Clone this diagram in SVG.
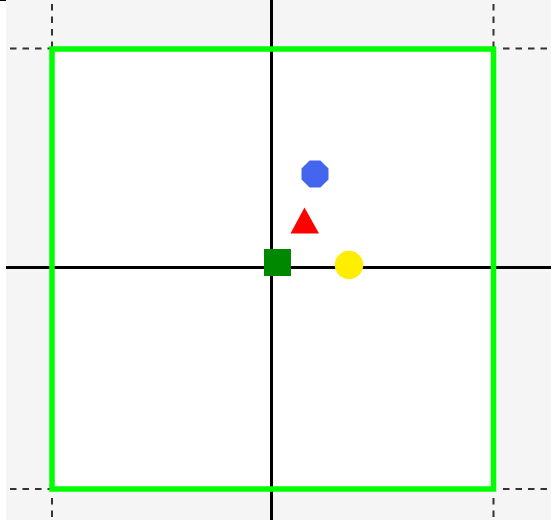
<svg xmlns="http://www.w3.org/2000/svg" width="551" height="520" viewBox="0 0 551 520">
<style>
.guide{stroke:#333;stroke-width:2;stroke-dasharray:6.5 6;fill:none}
.axis{stroke:#000;stroke-width:3;fill:none}
</style>
<rect x="0" y="0" width="551" height="520" fill="#fff"/>
<rect x="6" y="0" width="545" height="520" fill="#f5f5f5"/>
<rect x="0" y="0" width="6" height="1" fill="#000"/>
<g id="guides">
<line class="guide" x1="52" y1="4" x2="52" y2="48"/>
<line class="guide" x1="10" y1="48.5" x2="52" y2="48.5"/>
<line class="guide" x1="493.5" y1="498" x2="493.5" y2="520"/>
<line class="guide" x1="503" y1="489" x2="551" y2="489"/>
<line class="guide" x1="10" y1="489" x2="52" y2="489"/>
<line class="guide" x1="52" y1="498" x2="52" y2="520"/>
<line class="guide" x1="493.5" y1="4" x2="493.5" y2="48"/>
<line class="guide" x1="503" y1="48.5" x2="551" y2="48.5"/>
</g>
<rect x="52" y="49" width="441.5" height="440" fill="#fff"/>
<g id="axes">
<line class="axis" x1="6" y1="267.5" x2="551" y2="267.5"/>
<line class="axis" x1="271.5" y1="0" x2="271.5" y2="520"/>
</g>
<g id="frame">
<rect x="52" y="49" width="441.5" height="440" fill="none" stroke="#00ff00" stroke-width="5.5"/>
</g>
<g id="octagon">
<polygon fill="#4466ee" points="320.4,160.5 328.5,168.6 328.5,179.4 320.4,187.5 309.6,187.5 301.5,179.4 301.5,168.6 309.6,160.5"/>
</g>
<g id="triangle">
<polygon fill="#ff0000" points="304.5,207.5 319,233.5 290.5,233.5"/>
</g>
<g id="square">
<rect x="264" y="249" width="27" height="27" fill="#008800"/>
</g>
<g id="circle">
<circle cx="349" cy="265" r="14.2" fill="#ffee00"/>
</g>
</svg>
